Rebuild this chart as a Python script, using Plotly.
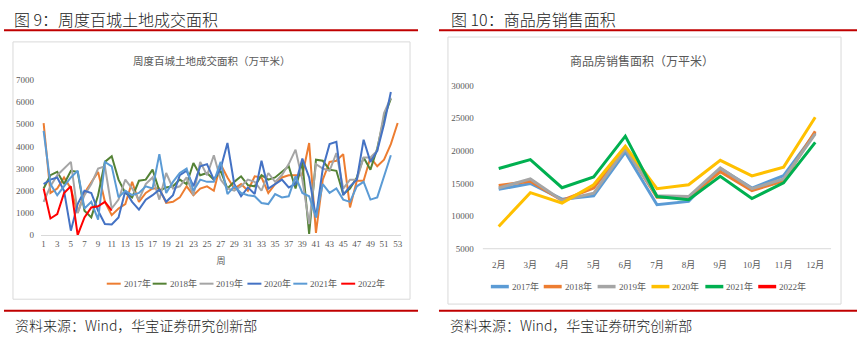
import plotly.graph_objects as go

W, H = 859, 345

# ---------------- data: left chart (weekly land transaction area) ----------------
weeks = list(range(1, 54))
week_ticks = list(range(1, 54, 2))
land_2017 = [5050, 1900, 2100, 2600, 2100, 1000, 1900, 2400, 2850, 1500, 900, 1200, 1400, 2400, 1500,
             1900, 2100, 2100, 1450, 1500, 1700, 2200, 1800, 2100, 2200, 2000, 3200, 2600, 2100, 2300,
             2000, 2650, 2600, 1900, 2300, 2600, 2700, 2700, 2700, 4150, 100, 2500, 3300, 3350, 3650,
             1250, 2450, 2450, 3500, 3100, 3400, 4100, 5050]
land_2018 = [2100, 2700, 2850, 2300, 2900, 2850, 1100, 800, 1800, 3300, 3550, 2500, 1900, 1700, 2450,
             2500, 2950, 2000, 2150, 2200, 2500, 2300, 3250, 2700, 2800, 2500, 2900, 2100, 2400, 2650,
             2250, 2200, 2700, 2500, 2600, 2850, 3100, 2100, 3300, 50, 3400, 3350, 2950, 2900, 1850,
             2100, 2600, 3500, 2950, 3900, 5300, 6150]
land_2019 = [1500, 2200, 2700, 3000, 3300, 1000, 1800, 2300, 3000, 3100, 1200, 1600, 2500, 2100, 1600,
             2300, 2600, 1600, 2800, 2100, 2200, 2600, 1800, 3300, 2700, 3600, 2500, 2100, 2000, 2200,
             2500, 2400, 2000, 2800, 2400, 2700, 3200, 3850, 2500, 500, 3200, 3000, 2900, 3700, 2100,
             2500, 2500, 3500, 3500, 3800, 5500, 6200]
land_2020 = [2300, 2500, 2600, 2000, 200, 1400, 2000, 1900, 1100, 500, 480, 800, 2000, 1500, 1150,
             1600, 1800, 2050, 1500, 1800, 2700, 2900, 2200, 3100, 3200, 2500, 3000, 4150, 2300, 1750,
             2150, 1850, 3350, 2100, 2300, 2500, 2150, 2300, 3450, 2600, 800, 3000, 4100, 4200, 1800,
             2200, 2500, 4300, 3300, 3800, 5000, 6450]
land_2021 = [4700, 2300, 1800, 2200, 2600, 2900, 1200, 1500, 700, 3300, 3100, 1700, 2000, 1800, 1900,
             2200, 2100, 3650, 1900, 2400, 2800, 3000, 2000, 2500, 2400, 2400, 3300, 1850, 2200, 1900,
             1800, 1750, 1450, 1400, 1850, 1700, 1750, 2650, 1900, 1750, 800, 2300, 1900, 2100, 1600,
             1500, 2200, 2400, 1600, 1700, 2650, 3600]
land_2022 = [2100, 750, 950, 1900, 2200, 0, 800, 1250, 1300, 1500, 1100]

land_names = ["2017年", "2018年", "2019年", "2020年", "2021年", "2022年"]
land_values = [land_2017, land_2018, land_2019, land_2020, land_2021, land_2022]
land_colors = ["#ED7D31", "#548235", "#A5A5A5", "#4472C4", "#5B9BD5", "#FF0000"]

# ---------------- data: right chart (monthly commercial housing sales area) ----------------
months = ["2月", "3月", "4月", "5月", "6月", "7月", "8月", "9月", "10月", "11月", "12月"]
sales_2017 = [14100, 15000, 12600, 13100, 19800, 11750, 12250, 17300, 14300, 16200, 22750]
sales_2018 = [14700, 15350, 12400, 14300, 20500, 12900, 12900, 16800, 13900, 15400, 23000]
sales_2019 = [14300, 15700, 12400, 13500, 20300, 13100, 13000, 17400, 14200, 15700, 22600]
sales_2020 = [8400, 13600, 12000, 14800, 20700, 14200, 14800, 18550, 16150, 17500, 25150]
sales_2021 = [17300, 18650, 14350, 16000, 22250, 13000, 12500, 16100, 12700, 15100, 21300]
sales_2022 = [None] * 11

sales_names = ["2017年", "2018年", "2019年", "2020年", "2021年", "2022年"]
sales_values = [sales_2017, sales_2018, sales_2019, sales_2020, sales_2021, sales_2022]
sales_colors = ["#5B9BD5", "#ED7D31", "#A5A5A5", "#FFC000", "#00B050", "#FF0000"]

SERIF = "Liberation Serif, Noto Sans CJK SC, serif"
CJK = "Noto Sans CJK SC, sans-serif"
GRAY = "#595959"


def px_x(p):
    return p / W


def px_y(p):
    return 1 - p / H


fig = go.Figure()

for name, vals, col in zip(land_names, land_values, land_colors):
    fig.add_trace(go.Scatter(x=weeks[:len(vals)], y=vals, mode="lines", name=name,
                             line=dict(color=col, width=2), xaxis="x", yaxis="y",
                             showlegend=False, hoverinfo="skip"))

for name, vals, col in zip(sales_names, sales_values, sales_colors):
    fig.add_trace(go.Scatter(x=months, y=vals, mode="lines", name=name,
                             line=dict(color=col, width=3), xaxis="x2", yaxis="y2",
                             showlegend=False, hoverinfo="skip"))

tickfont = dict(family=SERIF, size=9, color=GRAY)

fig.update_layout(
    width=W, height=H, margin=dict(l=0, r=0, t=0, b=0), autosize=False,
    paper_bgcolor="white", plot_bgcolor="white", showlegend=False,
    xaxis=dict(domain=[px_x(41), px_x(402)], range=[0.6, 53.5], tickmode="array",
               tickvals=week_ticks, anchor="y", showline=True, linecolor="#D9D9D9",
               showgrid=False, zeroline=False, ticks="", tickfont=tickfont, fixedrange=True,
               title=dict(text="周", font=dict(family=CJK, size=9, color=GRAY), standoff=9)),
    yaxis=dict(domain=[px_y(237), px_y(77)], range=[0, 7000], dtick=1000, anchor="x",
               showgrid=False, zeroline=False, ticks="", tickfont=tickfont, fixedrange=True,
               tickformat="d", ticklabelstandoff=6),
    xaxis2=dict(domain=[px_x(484), px_x(833)], type="category", range=[-0.5, 10.5], anchor="y2",
                showgrid=False, zeroline=False, showline=False, ticks="", tickfont=tickfont,
                fixedrange=True, ticklabelstandoff=9),
    yaxis2=dict(domain=[px_y(251), px_y(83)], range=[5000, 30000], dtick=5000, anchor="x2",
                showgrid=False, zeroline=False, ticks="", tickfont=tickfont, fixedrange=True,
                tickformat="d", ticklabelstandoff=8),
)

shapes = [
    dict(type="rect", xref="paper", yref="paper", x0=px_x(13), x1=px_x(411), y0=px_y(303), y1=px_y(38),
         line=dict(color="#D9D9D9", width=1), layer="below"),
    dict(type="rect", xref="paper", yref="paper", x0=px_x(449), x1=px_x(843), y0=px_y(308), y1=px_y(33),
         line=dict(color="#D9D9D9", width=1), layer="below"),
    dict(type="line", xref="paper", yref="paper", x0=px_x(484), x1=px_x(833), y0=px_y(251), y1=px_y(251),
         line=dict(color="#D9D9D9", width=1), layer="below"),
    dict(type="line", xref="paper", yref="paper", x0=px_x(4), x1=px_x(419), y0=px_y(26), y1=px_y(26),
         line=dict(color="#C00000", width=2)),
    dict(type="line", xref="paper", yref="paper", x0=px_x(440), x1=px_x(859), y0=px_y(26), y1=px_y(26),
         line=dict(color="#C00000", width=2)),
    dict(type="line", xref="paper", yref="paper", x0=px_x(4), x1=px_x(419), y0=px_y(315), y1=px_y(315),
         line=dict(color="#C00000", width=2)),
    dict(type="line", xref="paper", yref="paper", x0=px_x(440), x1=px_x(859), y0=px_y(315), y1=px_y(315),
         line=dict(color="#C00000", width=2)),
]

annotations = [
    dict(text="图 9：周度百城土地成交面积", x=px_x(12), y=px_y(14), xanchor="left", yanchor="middle",
         font=dict(family=CJK, size=16, color="#222222", weight=300)),
    dict(text="图 10：商品房销售面积", x=px_x(450), y=px_y(14), xanchor="left", yanchor="middle",
         font=dict(family=CJK, size=16, color="#222222", weight=300)),
    dict(text="周度百城土地成交面积（万平米）", x=px_x(212), y=px_y(57), xanchor="center", yanchor="middle",
         font=dict(family=CJK, size=10.5, color=GRAY)),
    dict(text="商品房销售面积（万平米）", x=px_x(643), y=px_y(57), xanchor="center", yanchor="middle",
         font=dict(family=CJK, size=12, color=GRAY)),
    dict(text="资料来源：Wind，华宝证券研究创新部", x=px_x(13), y=px_y(330), xanchor="left", yanchor="middle",
         font=dict(family=CJK, size=14, color="#222222", weight=300)),
    dict(text="资料来源：Wind，华宝证券研究创新部", x=px_x(449), y=px_y(330), xanchor="left", yanchor="middle",
         font=dict(family=CJK, size=14, color="#222222", weight=300)),
]

# custom legends (short line keys like the source)
left_leg_x = [107, 153, 200, 248, 294, 342]
for lx, name, col in zip(left_leg_x, land_names, land_colors):
    shapes.append(dict(type="line", xref="paper", yref="paper", x0=px_x(lx), x1=px_x(lx + 14),
                       y0=px_y(287), y1=px_y(287), line=dict(color=col, width=2)))
    annotations.append(dict(text=name, x=px_x(lx + 15), y=px_y(287), xanchor="left", yanchor="middle",
                            font=dict(family=SERIF, size=9, color=GRAY)))

right_leg_x = [492, 545, 599, 653, 707, 760]
for lx, name, col in zip(right_leg_x, sales_names, sales_colors):
    shapes.append(dict(type="line", xref="paper", yref="paper", x0=px_x(lx), x1=px_x(lx + 18),
                       y0=px_y(290), y1=px_y(290), line=dict(color=col, width=3.5)))
    annotations.append(dict(text=name, x=px_x(lx + 19), y=px_y(290), xanchor="left", yanchor="middle",
                            font=dict(family=SERIF, size=9, color=GRAY)))

for a in annotations:
    a.update(xref="paper", yref="paper", showarrow=False)
fig.update_layout(shapes=shapes, annotations=annotations)

fig.write_html("out.html", config={"responsive": False, "displayModeBar": False},
               post_script="document.body.style.margin='0';document.body.style.overflow='hidden';")
